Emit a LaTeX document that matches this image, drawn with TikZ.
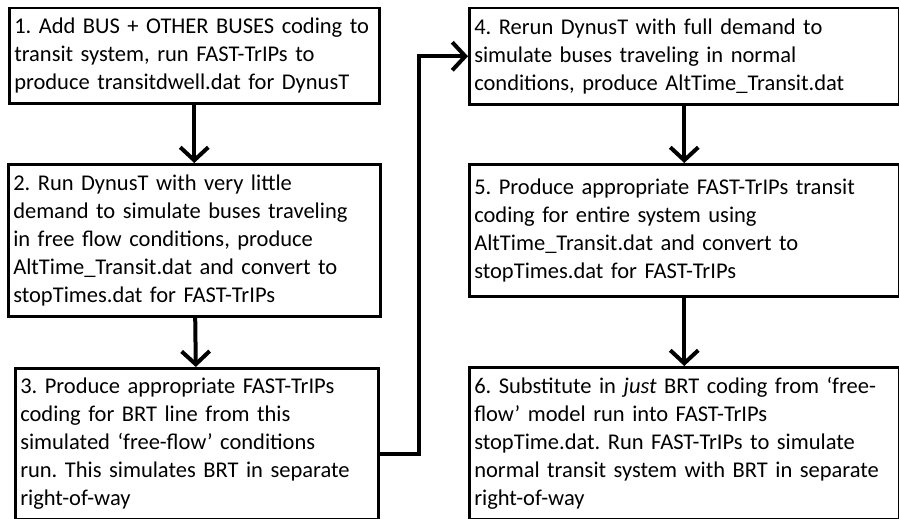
\documentclass[tikz,border=0pt]{standalone}
\usepackage{fontspec}
\setmainfont{Carlito}
\frenchspacing
\usetikzlibrary{arrows.meta}

\begin{document}
\begin{tikzpicture}[
  x=1pt,
  y=-1pt,
  stage box/.style={
    draw,
    black,
    line width=2.5pt,
    anchor=north west,
    align=left,
    inner sep=5pt,
    font=\fontsize{22.5}{28}\selectfont
  },
  flow arrow/.style={
    draw,
    line width=4pt,
    -{Straight Barb[length=13pt,width=28pt,line width=4pt]},
  },
]
\useasboundingbox (0,0) rectangle (899,519);

% left column
\node[stage box, text width=360pt, minimum height=95pt] (stage1) at (8,7)
  {1. Add BUS + OTHER BUSES coding to\\
   transit system, run FAST-TrIPs to\\
   produce transitdwell.dat for DynusT};
\node[stage box, text width=362pt, minimum height=152pt] (stage2) at (7,163)
  {2. Run DynusT with very little\\
   demand to simulate buses traveling\\
   in free flow conditions, produce\\
   AltTime\_Transit.dat and convert to\\
   stopTimes.dat for FAST-TrIPs};
\node[stage box, text width=353pt, minimum height=151pt] (stage3) at (14,367)
  {3. Produce appropriate FAST-TrIPs\\
   coding for BRT line from this\\
   simulated ‘free-flow’ conditions\\
   run. This simulates BRT in separate\\
   right-of-way};

% right column
\node[stage box, text width=420pt, minimum height=96pt] (stage4) at (468,7)
  {4. Rerun DynusT with full demand to\\
   simulate buses traveling in normal\\
   conditions, produce AltTime\_Transit.dat};
\node[stage box, text width=420pt, minimum height=132pt] (stage5) at (468,163)
  {5. Produce appropriate FAST-TrIPs transit\\
   coding for entire system using\\
   AltTime\_Transit.dat and convert to\\
   stopTimes.dat for FAST-TrIPs};
\node[stage box, text width=420pt, minimum height=152pt] (stage6) at (468,366)
  {6. Substitute in \textit{just} BRT coding from ‘free-\\
   flow’ model run into FAST-TrIPs\\
   stopTime.dat. Run FAST-TrIPs to simulate\\
   normal transit system with BRT in separate\\
   right-of-way};

\coordinate (bend) at ([xshift=-49pt]stage4.west);

\draw[flow arrow] (stage1) -- (stage2);
\draw[flow arrow] (stage2) -- (stage3);
\draw[flow arrow] ([yshift=-10pt]stage3.east) -| (bend) -- (stage4.west);
\draw[flow arrow] (stage4) -- (stage5);
\draw[flow arrow] (stage5) -- (stage6);
\end{tikzpicture}
\end{document}
